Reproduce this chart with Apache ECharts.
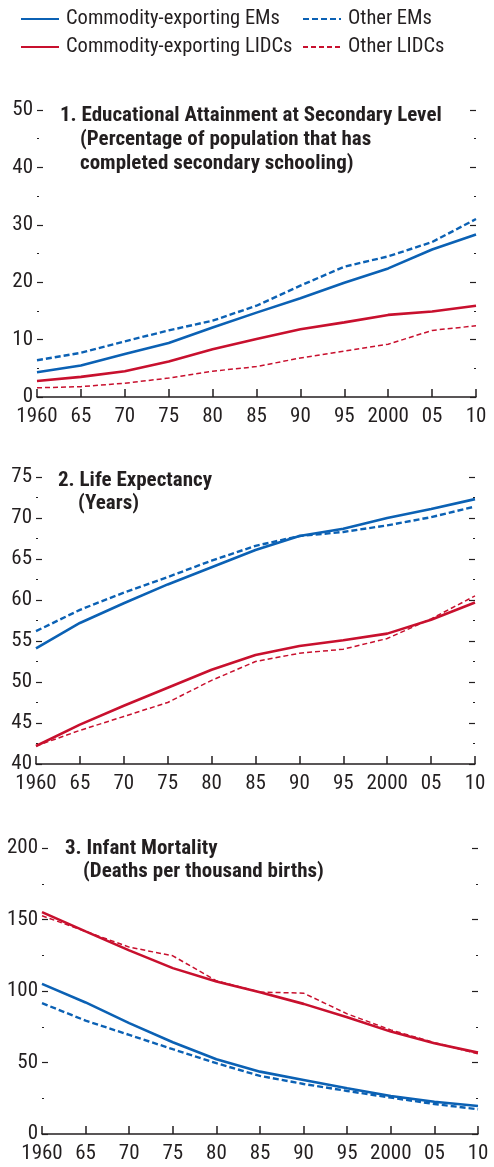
<!DOCTYPE html>
<html>
<head>
<meta charset="utf-8">
<script src="https://cdn.jsdelivr.net/npm/echarts@6/dist/echarts.min.js"></script>
<style>
  html, body { margin: 0; padding: 0; background: #fff; }
  #grafico { width: 494px; height: 1167px; }
</style>
</head>
<body>
<div id="grafico"></div>
<script>
// Anos do eixo horizontal (comum aos tres paineis)
const anos = [1960, 1965, 1970, 1975, 1980, 1985, 1990, 1995, 2000, 2005, 2010];

const nomesSeries = ['Commodity-exporting EMs', 'Other EMs', 'Commodity-exporting LIDCs', 'Other LIDCs'];

// Painel 1: escolaridade secundaria (% da populacao)
const educEmsExport = [4.3, 5.5, 7.5, 9.4, 12.1, 14.7, 17.2, 19.9, 22.4, 25.7, 28.3];
const educEmsOutros = [6.4, 7.7, 9.7, 11.6, 13.3, 15.9, 19.4, 22.7, 24.5, 27.0, 31.0];
const educLidcExport = [2.8, 3.5, 4.5, 6.2, 8.3, 10.1, 11.8, 13.0, 14.3, 14.9, 15.9];
const educLidcOutros = [1.6, 1.8, 2.4, 3.3, 4.5, 5.3, 6.8, 8.0, 9.2, 11.6, 12.4];

// Painel 2: expectativa de vida (anos)
const vidaEmsExport = [54.1, 57.2, 59.6, 61.9, 64.0, 66.1, 67.8, 68.7, 70.0, 71.1, 72.3];
const vidaEmsOutros = [56.2, 58.8, 60.9, 62.8, 64.8, 66.6, 67.8, 68.3, 69.1, 70.1, 71.4];
const vidaLidcExport = [42.2, 44.8, 47.1, 49.3, 51.5, 53.3, 54.4, 55.1, 55.9, 57.6, 59.7];
const vidaLidcOutros = [42.2, 44.1, 45.8, 47.5, 50.2, 52.5, 53.5, 54.0, 55.3, 57.7, 60.5];

// Painel 3: mortalidade infantil (mortes por mil nascimentos)
const mortEmsExport = [105, 92, 77.5, 64.2, 52.3, 43.6, 37.8, 32.0, 26.6, 22.6, 19.6];
const mortEmsOutros = [91.5, 79.3, 69.3, 59.3, 49.5, 40.6, 35.0, 30.1, 25.4, 21.0, 17.3];
const mortLidcExport = [155.2, 141.7, 128.4, 116.0, 106.7, 99.2, 91.0, 81.7, 71.6, 63.5, 56.9];
const mortLidcOutros = [152.6, 141.7, 130.7, 124.6, 107.1, 99.2, 98.5, 84.0, 72.8, 63.9, 56.0];

// Limites dos eixos verticais de cada painel
const limitesY = [
    { min: 0, max: 50, intervalo: 10 },
    { min: 40, max: 75, intervalo: 5 },
    { min: 0, max: 200, intervalo: 50 }
];

const titulos = [
    ['1. Educational Attainment at Secondary Level', '(Percentage of population that has\ncompleted secondary schooling)'],
    ['2. Life Expectancy', '(Years)'],
    ['3. Infant Mortality', '(Deaths per thousand births)']
];

const fonte = '"Roboto Condensed", "Liberation Sans", sans-serif';
const corTexto = '#231f20';
const azul = '#0b61b4';
const vermelho = '#c8102e';

const meuGrafico = echarts.init(document.getElementById('grafico'), null, { renderer: 'canvas' });

// Posicoes dos tres paineis (em px)
const grades = [
    { left: 37, right: 18, top: 110, height: 287 },
    { left: 36, right: 19, top: 477, height: 287 },
    { left: 42, right: 16, top: 848, height: 286 }
];

// Posicoes dos titulos: [x linha1, y linha1, x subtitulo, y subtitulo]
const posTitulos = [
    [60, 104, 80, 128],
    [58, 469, 78, 492],
    [65, 837, 83, 860]
];

function formatarAno(v) {
    if (v === 1960 || v === 2000) return String(v);
    return String(v).slice(2);
}

const eixosX = grades.map((g, i) => ({
    type: 'value',
    gridIndex: i,
    min: 1960,
    max: 2010,
    interval: 5,
    axisLine: { show: true, onZero: false, lineStyle: { color: corTexto, width: 1.5 } },
    axisTick: { show: true, inside: true, length: 8, lineStyle: { color: corTexto, width: 1.5 } },
    axisLabel: { color: corTexto, fontFamily: fonte, fontSize: 21, margin: 9, formatter: formatarAno },
    splitLine: { show: false }
}));

const eixosY = [];
limitesY.forEach((lim, i) => {
    const base = {
        type: 'value',
        gridIndex: i,
        min: lim.min,
        max: lim.max,
        interval: lim.intervalo,
        axisLine: { show: false },
        axisTick: { show: true, inside: true, length: 6, lineStyle: { color: corTexto, width: 1.2 } },
        minorTick: { show: true, splitNumber: 2, length: 2, lineStyle: { color: corTexto, width: 1.2 } },
        splitLine: { show: false }
    };
    eixosY.push(Object.assign({}, base, {
        position: 'left',
        axisLabel: { color: corTexto, fontFamily: fonte, fontSize: 21, margin: 4 }
    }));
    eixosY.push(Object.assign({}, base, {
        position: 'right',
        axisLabel: { show: false }
    }));
});

function pares(valores) {
    return anos.map((a, k) => [a, valores[k]]);
}

const dadosPaineis = [
    [educEmsExport, educEmsOutros, educLidcExport, educLidcOutros],
    [vidaEmsExport, vidaEmsOutros, vidaLidcExport, vidaLidcOutros],
    [mortEmsExport, mortEmsOutros, mortLidcExport, mortLidcOutros]
];

// Estilo de cada serie: solida/tracejada, azul/vermelha
const estilos = [
    { color: azul, width: 2.6, type: 'solid' },
    { color: azul, width: 2.4, type: [6, 3] },
    { color: vermelho, width: 2.6, type: 'solid' },
    { color: vermelho, width: 1.5, type: [5, 3] }
];

const series = [];
dadosPaineis.forEach((grupo, i) => {
    // desenhamos as tracejadas primeiro e as solidas por cima
    [3, 1, 2, 0].forEach(j => {
        series.push({
            name: nomesSeries[j],
            type: 'line',
            xAxisIndex: i,
            yAxisIndex: i * 2,
            data: pares(grupo[j]),
            symbol: 'none',
            silent: true,
            animation: false,
            lineStyle: estilos[j],
            itemStyle: { color: estilos[j].color }
        });
    });
});

const titulosOpcao = [];
titulos.forEach((t, i) => {
    const p = posTitulos[i];
    titulosOpcao.push({
        text: t[0], left: p[0], top: p[1], padding: 0,
        textStyle: { fontFamily: fonte, fontSize: 21, fontWeight: 'bold', color: corTexto, lineHeight: 24 }
    });
    titulosOpcao.push({
        text: t[1], left: p[2], top: p[3], padding: 0,
        textStyle: { fontFamily: fonte, fontSize: 21, fontWeight: 'bold', color: corTexto, lineHeight: 24 }
    });
});

const estiloLegenda = {
    orient: 'vertical',
    top: 8,
    padding: 0,
    itemWidth: 38,
    itemHeight: 14,
    itemGap: 6,
    itemStyle: { opacity: 0 },
    textStyle: { fontFamily: fonte, fontSize: 20.5, lineHeight: 22, color: corTexto, padding: [0, 0, 0, 2] },
    selectedMode: false
};

const opcoes = {
    animation: false,
    title: titulosOpcao,
    legend: [
        Object.assign({}, estiloLegenda, { left: 20, data: [nomesSeries[0], nomesSeries[2]] }),
        Object.assign({}, estiloLegenda, { left: 302, data: [nomesSeries[1], nomesSeries[3]] })
    ],
    grid: grades,
    xAxis: eixosX,
    yAxis: eixosY,
    series: series
};

meuGrafico.setOption(opcoes);
</script>
</body>
</html>
